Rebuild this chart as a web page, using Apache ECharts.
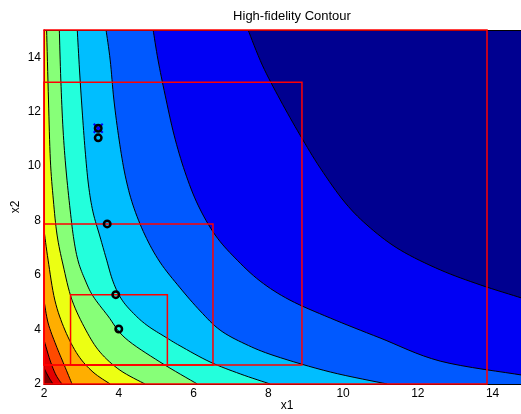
<!DOCTYPE html>
<html><head><meta charset="utf-8">
<script src="https://cdn.jsdelivr.net/npm/echarts@6/dist/echarts.min.js"></script>
<style>html,body{margin:0;padding:0;background:#fff}#c{width:521px;height:414px}</style>
</head><body><div id="c"></div>
<script>
// ---- data ----
const xRange = [2, 15];
const yRange = [2, 15];
const xTickStep = 2;
const yTickStep = 2;
const bandColors = ['#000090','#0000F4','#0059FF','#00BEFF','#23FFDC','#87FF78','#ECFF13','#FFAE00','#FF4A00','#E40000','#800000'];
// contour boundary lines, from upper-right (low) to lower-left (high)
const contour1 = [[7.46,15],[7.84,13.71],[8.32,12.43],[8.85,11.14],[9.39,9.93],[10.06,8.65],[10.73,7.73],[11.53,6.92],[12.60,6.19],[13.67,5.64],[14.77,5.16],[15,5.05]];
const contour2 = [[4.92,15],[5.05,13.90],[5.24,12.61],[5.48,11.14],[5.77,9.79],[6.12,8.57],[6.58,7.47],[7.11,6.63],[7.78,5.78],[8.58,5.08],[9.66,4.42],[10.99,3.69],[12.60,2.84],[14.77,2.33],[15,2.26]];
const contour3 = [[3.66,15],[3.77,13.90],[3.87,12.43],[4.01,10.96],[4.17,9.67],[4.38,8.57],[4.70,7.47],[5.10,6.48],[5.64,5.53],[6.18,4.68],[6.71,3.98],[7.38,3.47],[8.18,3.03],[9.66,2.44],[11.18,2.0]];
const contour4 = [[2.89,15],[2.95,13.53],[3.02,12.06],[3.10,10.59],[3.19,9.31],[3.31,8.32],[3.50,7.40],[3.66,6.63],[3.85,5.75],[4.09,5.08],[4.44,4.53],[4.78,4.13],[5.24,3.73],[5.64,3.40],[6.44,2.81],[7.25,2.37],[8.05,2.0]];
const contour5 = [[2.41,15],[2.45,13.16],[2.51,11.33],[2.59,9.86],[2.70,8.39],[2.80,7.29],[2.92,6.48],[3.10,5.82],[3.31,5.23],[3.71,4.50],[4.17,3.69],[5.10,2.81],[6.10,2.0]];
const contour6 = [[2.07,15],[2.12,12.43],[2.17,10.23],[2.25,8.76],[2.35,7.47],[2.51,6.37],[2.75,5.08],[3.12,3.98],[3.50,3.17],[4.03,2.51],[4.70,2.0]];
const contour7 = [[2.0,7.66],[2.11,6.55],[2.29,5.08],[2.56,3.98],[2.91,3.06],[3.31,2.44],[3.77,2.0]];
const contour8 = [[2.0,5.08],[2.11,4.24],[2.32,3.43],[2.54,2.70],[2.75,2.0]];
const contour9 = [[2.0,3.62],[2.16,2.88],[2.32,2.33],[2.48,2.0]];
const contour10 = [[2.0,2.59],[2.11,2.29],[2.24,2.0]];
const contours = [contour1,contour2,contour3,contour4,contour5,contour6,contour7,contour8,contour9,contour10];
// trust-region boxes [xmin, ymin, xmax, ymax]
const trustBoxes = [[2.71,2.70,5.30,5.28],[2.00,2.70,6.52,7.88],[2.00,2.70,8.90,13.08],[2.00,2.00,13.85,15.00]];
const iterPoints = [[4.00,4.02],[3.92,5.28],[3.69,7.88],[3.45,11.04],[3.45,11.39]];
const bestPoint = [[3.45,11.39]];
const titleText = 'High-fidelity Contour';
const xName = 'x1', yName = 'x2';

// ---- rendering ----
function spline(pts){
  const out=[], n=pts.length;
  for(let i=0;i<n-1;i++){
    const p0=pts[Math.max(i-1,0)],p1=pts[i],p2=pts[i+1],p3=pts[Math.min(i+2,n-1)];
    for(let s=0;s<8;s++){
      const t=s/8,t2=t*t,t3=t2*t;
      const f=(a,b,c,d)=>0.5*(2*b+(-a+c)*t+(2*a-5*b+4*c-d)*t2+(-a+3*b-3*c+d)*t3);
      out.push([f(p0[0],p1[0],p2[0],p3[0]),f(p0[1],p1[1],p2[1],p3[1])]);
    }
  }
  out.push(pts[n-1]);
  return out;
}
const font = 'Liberation Sans, Arial, sans-serif';
const chart = echarts.init(document.getElementById('c'), null, {renderer:'canvas'});
const fmt = v => (Math.abs(v/2 - Math.round(v/2))<1e-9 ? String(v) : '');
chart.setOption({
  animation:false,
  title:{text:titleText,left:287,top:5,textAlign:'center',textStyle:{fontFamily:font,fontSize:13,fontWeight:'normal',color:'#000'}},
  grid:{left:44,top:30,width:486,height:354,containLabel:false,outerBoundsMode:'none',show:true,backgroundColor:bandColors[0],borderWidth:0},
  xAxis:[{type:'value',min:xRange[0],max:xRange[1],interval:xTickStep,
    name:xName,nameLocation:'middle',nameGap:16,nameMoveOverlap:false,nameTextStyle:{fontFamily:font,fontSize:12,color:'#000'},
    axisLine:{show:true,lineStyle:{color:'#000',width:1}},axisTick:{show:false},splitLine:{show:false},
    axisLabel:{margin:4,fontFamily:font,fontSize:12,color:'#000',formatter:fmt},z:10},
    {type:'value',position:'top',min:xRange[0],max:xRange[1],interval:xTickStep,
    axisLine:{show:true,lineStyle:{color:'#000',width:1}},axisTick:{show:false},splitLine:{show:false},axisLabel:{show:false},z:10}],
  yAxis:{type:'value',min:yRange[0],max:yRange[1],interval:yTickStep,
    name:yName,nameLocation:'middle',nameGap:22,nameMoveOverlap:false,nameTextStyle:{fontFamily:font,fontSize:12,color:'#000'},
    axisLine:{show:true,lineStyle:{color:'#000',width:1}},axisTick:{show:false},splitLine:{show:false},
    axisLabel:{margin:3,fontFamily:font,fontSize:12,color:'#000',formatter:fmt},z:10},
  series:[
    {type:'custom',z:2,clip:true,data:contours.map((c,i)=>[i]),
      renderItem:(params,api)=>{
        const c=contours[params.dataIndex];
        const px=spline(c.map(p=>api.coord(p)));
        const first=c[0],last=c[c.length-1];
        const poly=px.concat([api.coord([last[0],yRange[0]]),api.coord([xRange[0],yRange[0]]),api.coord([xRange[0],first[1]])]);
        return {type:'polygon',shape:{points:poly},style:{fill:bandColors[params.dataIndex+1],stroke:null}};
      }},
    {type:'custom',z:3,clip:true,data:contours.map((c,i)=>[i]),
      renderItem:(params,api)=>{
        const c=contours[params.dataIndex];
        const px=spline(c.map(p=>api.coord(p)));
        return {type:'polyline',shape:{points:px},style:{stroke:'#000',lineWidth:1,fill:null}};
      }},
    {type:'custom',z:11,clip:false,data:trustBoxes,
      renderItem:(params,api)=>{
        const p0=api.coord([api.value(0),api.value(1)]),p1=api.coord([api.value(2),api.value(3)]);
        return {type:'rect',shape:{x:p0[0],y:p1[1],width:p1[0]-p0[0],height:p0[1]-p1[1]},style:{fill:null,stroke:'#FF0000',lineWidth:1.5}};
      }},
    {type:'custom',z:12,data:bestPoint,
      renderItem:(params,api)=>{
        const p=api.coord([api.value(0),api.value(1)]),r=4.5;
        return {type:'group',children:[
          {type:'line',shape:{x1:p[0]-r,y1:p[1]-r,x2:p[0]+r,y2:p[1]+r},style:{stroke:'#0000FF',lineWidth:2}},
          {type:'line',shape:{x1:p[0]-r,y1:p[1]+r,x2:p[0]+r,y2:p[1]-r},style:{stroke:'#0000FF',lineWidth:2}}]};
      }},
    {type:'scatter',z:13,data:iterPoints,symbol:'circle',symbolSize:6.5,
      itemStyle:{color:'rgba(0,0,0,0)',borderColor:'#000',borderWidth:2.5,opacity:1}}
  ]
});
</script></body></html>
